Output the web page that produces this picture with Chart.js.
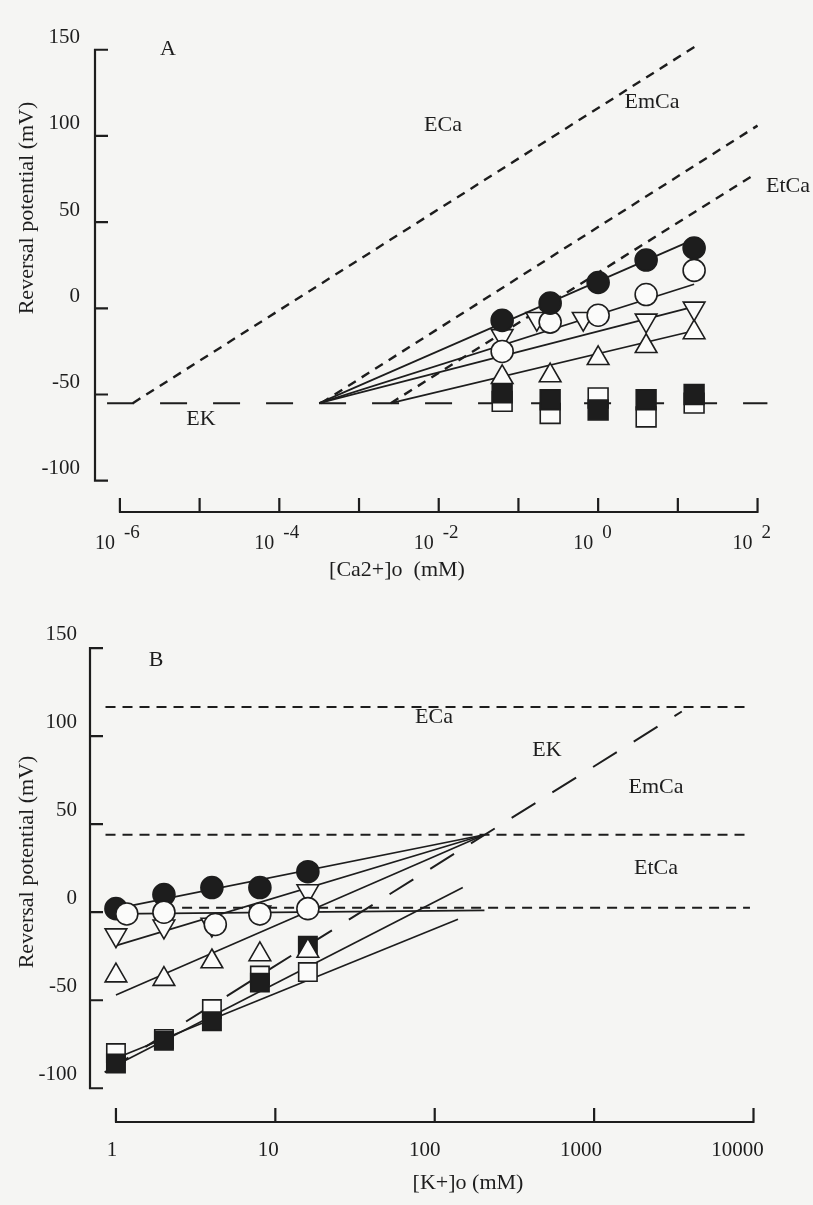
<!DOCTYPE html>
<html><head><meta charset="utf-8">
<script src="https://cdn.jsdelivr.net/npm/chart.js@4.4.1/dist/chart.umd.min.js"></script>
<style>
html,body{margin:0;padding:0;background:#f5f5f3;}
#wrap{position:relative;width:813px;height:1205px;overflow:hidden;background:#f5f5f3;}
#ca{position:absolute;left:0;top:0;}
#cb{position:absolute;left:0;top:600px;}
</style></head><body>
<div id="wrap">
<canvas id="ca" width="813" height="600"></canvas>
<canvas id="cb" width="813" height="605"></canvas>
</div>
<script>
const INK = '#1d1d1d';
const OPEN = '#fbfbfa';
const FONT = "'Liberation Serif', 'Times New Roman', serif";

// ---------- Panel A : [Ca2+]o ----------
const caConc = [0.0625, 0.25, 1, 4, 16];
const caDownTriangleConc = [0.0625, 0.17, 0.65, 4, 16];
const caFilledCircle = [-7, 3, 15, 28, 35];
const caOpenCircle   = [-25, -8, -4, 8, 22];
const caDownTriangle = [-16, -6, -6, -7, 0];
const caUpTriangle   = [-40, -39, -29, -22, -14];
const caFilledSquare = [-49, -53, -59, -53, -50];
const caOpenSquare   = [-54, -61, -52, -63, -55];
// fitted lines [conc, mV]
const caFitFilledCircle = [[3.16e-4, -55], [16, 40]];
const caFitOpenCircle   = [[3.16e-4, -55], [16, 14]];
const caFitDownTriangle = [[3.16e-4, -55], [16, 1]];
const caFitUpTriangle   = [[2.5e-3, -55], [16, -13]];
// theoretical potentials
const caEK   = [[6.9e-7, -55], [133, -55]];
const caECa  = [[1.45e-6, -55], [16.6, 152]];
const caEmCa = [[3.35e-4, -55], [100, 106]];
const caEtCa = [[2.5e-3, -55], [87, 77]];
const caYTicks = [-100, -50, 0, 50, 100, 150];
const caXTicks = [1e-6, 1e-5, 1e-4, 1e-3, 1e-2, 1e-1, 1, 10, 100];
const caXLabelPowers = [-6, -4, -2, 0, 2];

// ---------- Panel B : [K+]o ----------
const kConc = [1, 2, 4, 8, 16];
const kOpenCircleConc = [1.17, 2, 4.2, 8, 16];
const kFilledCircle = [2, 10, 14, 14, 23];
const kOpenCircle   = [-1, 0, -7, -1, 2];
const kDownTriangle = [-13, -8, -7, 0, 12];
const kUpTriangle   = [-36, -38, -28, -24, -22];
const kFilledSquare = [-86, -73, -62, -40, -19];
const kOpenSquare   = [-80, -72, -55, -36, -34];
const kFitFilledCircle = [[1, 2], [205, 44]];
const kFitDownTriangle = [[1, -19], [205, 44]];
const kFitUpTriangle   = [[1, -47], [205, 44]];
const kFitOpenCircle   = [[1, -1], [205, 1]];
const kFitFilledSquare = [[1, -87], [150, 14]];
const kFitOpenSquare   = [[1, -83], [140, -4]];
const kEK   = [[0.85, -91], [3550, 114]];
const kECa  = [[0.86, 116.5], [9500, 116.5]];
const kEmCa = [[0.86, 44], [9500, 44]];
const kEtCa = [[2.6, 2.5], [9500, 2.5]];
const kYTicks = [-100, -50, 0, 50, 100, 150];
const kXTicks = [1, 10, 100, 1000, 10000];
const kXLabels = ['1', '10', '100', '1000', '10000'];

function lineDs(pts, dash, width) {
  return { data: pts.map(([x, y]) => ({x, y})), showLine: true, pointRadius: 0,
    borderColor: INK, borderWidth: width, borderDash: dash, fill: false, clip: false, tension: 0 };
}
function markerDs(xs, ys, style, fill, rot, r) {
  return { data: xs.map((x, i) => ({x, y: ys[i]})), showLine: false, pointStyle: style,
    rotation: rot, pointRotation: rot, pointRadius: r, pointHoverRadius: r,
    pointBackgroundColor: fill, pointBorderColor: INK, pointBorderWidth: 1.6, clip: false };
}

function axesPlugin(spec) {
  return {
    id: 'axes' + spec.id,
    afterDraw(chart) {
      const ctx = chart.ctx, xs = chart.scales.x, ys = chart.scales.y;
      const left = chart.chartArea.left;
      ctx.save();
      ctx.strokeStyle = INK; ctx.lineWidth = 2.2; ctx.lineCap = 'butt';
      ctx.beginPath();
      const yTop = ys.getPixelForValue(spec.yTicks[spec.yTicks.length - 1]);
      const yBot = ys.getPixelForValue(spec.yTicks[0]);
      ctx.moveTo(left, yTop - 1); ctx.lineTo(left, yBot + 1);
      for (const v of spec.yTicks) { const p = ys.getPixelForValue(v); ctx.moveTo(left, p); ctx.lineTo(left + 13, p); }
      const xa = spec.xAxisY;
      const x0 = xs.getPixelForValue(spec.xTicks[0]);
      const x1 = xs.getPixelForValue(spec.xTicks[spec.xTicks.length - 1]);
      ctx.moveTo(x0 - 1, xa); ctx.lineTo(x1 + 1, xa);
      for (const v of spec.xTicks) { const p = xs.getPixelForValue(v); ctx.moveTo(p, xa); ctx.lineTo(p, xa - 14); }
      ctx.stroke();

      ctx.fillStyle = INK;
      spec.drawXLabels(ctx, xs);
      ctx.font = '22px ' + FONT; ctx.textAlign = 'center'; ctx.textBaseline = 'middle';
      ctx.fillText(spec.xTitle[0], spec.xTitle[1], spec.xTitle[2]);
      ctx.save();
      ctx.translate(spec.yTitle[1], spec.yTitle[2]); ctx.rotate(-Math.PI / 2);
      ctx.fillText(spec.yTitle[0], 0, 0);
      ctx.restore();
      for (const [t, x, y] of spec.notes) ctx.fillText(t, x, y);
      ctx.restore();
    }
  };
}

function yScale(min, max, ticks, width, offset, pad) {
  return {
    type: 'linear', min, max, position: 'left',
    grid: { display: false, drawTicks: false }, border: { display: false },
    afterBuildTicks: s => { s.ticks = ticks.map(v => ({value: v})); },
    afterFit: s => { s.width = width; },
    ticks: { color: INK, font: { family: FONT, size: 21 }, padding: pad, labelOffset: offset,
      callback: v => String(v) }
  };
}

new Chart(document.getElementById('ca'), {
  type: 'scatter',
  data: { datasets: [
    markerDs(caConc, caFilledCircle, 'circle', INK, 0, 11),
    markerDs(caConc, caOpenCircle, 'circle', OPEN, 0, 11),
    markerDs(caDownTriangleConc, caDownTriangle, 'triangle', OPEN, 180, 12.5),
    markerDs(caConc, caUpTriangle, 'triangle', OPEN, 0, 12.5),
    markerDs(caConc, caFilledSquare, 'rect', INK, 0, 14),
    markerDs(caConc, caOpenSquare, 'rect', OPEN, 0, 14),
    lineDs(caFitFilledCircle, [], 1.7),
    lineDs(caFitOpenCircle, [], 1.7),
    lineDs(caFitDownTriangle, [], 1.7),
    lineDs(caFitUpTriangle, [], 1.7),
    lineDs(caEK, [27, 26], 2),
    lineDs(caECa, [9, 7], 2.4),
    lineDs(caEmCa, [9, 7], 2.4),
    lineDs(caEtCa, [9, 7], 2.4)
  ]},
  options: {
    responsive: false, devicePixelRatio: 1, animation: false,
    layout: { padding: { left: 0, top: 10, right: 13, bottom: 100 } },
    plugins: { legend: { display: false }, tooltip: { enabled: false } },
    scales: {
      x: { type: 'logarithmic', min: Math.pow(10, -6.3125), max: Math.pow(10, 2.5), display: false },
      y: yScale(-111.19, 162.86, caYTicks, 95, -12, 15)
    }
  },
  plugins: [axesPlugin({
    id: 'A', yTicks: caYTicks, xTicks: caXTicks, xAxisY: 512,
    drawXLabels(ctx, xs) {
      for (const pw of caXLabelPowers) {
        const p = xs.getPixelForValue(Math.pow(10, pw));
        ctx.font = '20px ' + FONT; ctx.textAlign = 'right'; ctx.textBaseline = 'alphabetic';
        ctx.fillText('10', p - 5, 549);
        ctx.font = '19px ' + FONT; ctx.textAlign = 'left';
        ctx.fillText(String(pw), p + 4, 538);
      }
    },
    xTitle: ['[Ca2+]o  (mM)', 397, 570],
    yTitle: ['Reversal potential (mV)', 27, 208],
    notes: [['A', 168, 49], ['ECa', 443, 125], ['EmCa', 652, 102], ['EtCa', 788, 186], ['EK', 201, 419]]
  })]
});

new Chart(document.getElementById('cb'), {
  type: 'scatter',
  data: { datasets: [
    markerDs(kOpenCircleConc, kOpenCircle, 'circle', OPEN, 0, 11),
    markerDs(kConc, kFilledCircle, 'circle', INK, 0, 11),
    markerDs(kConc, kDownTriangle, 'triangle', OPEN, 180, 12.5),
    markerDs(kConc, kUpTriangle, 'triangle', OPEN, 0, 12.5),
    markerDs(kConc, kFilledSquare, 'rect', INK, 0, 13),
    markerDs(kConc, kOpenSquare, 'rect', OPEN, 0, 13),
    lineDs(kFitFilledCircle, [], 1.7),
    lineDs(kFitDownTriangle, [], 1.7),
    lineDs(kFitUpTriangle, [], 1.7),
    lineDs(kFitOpenCircle, [], 1.7),
    lineDs(kFitFilledSquare, [], 1.7),
    lineDs(kFitOpenSquare, [], 1.7),
    lineDs(kEK, [28, 20], 2),
    lineDs(kECa, [10, 7], 2),
    lineDs(kEmCa, [10, 7], 2),
    lineDs(kEtCa, [10, 7], 2)
  ]},
  options: {
    responsive: false, devicePixelRatio: 1, animation: false,
    layout: { padding: { left: 0, top: 15, right: 13, bottom: 105 } },
    plugins: { legend: { display: false }, tooltip: { enabled: false } },
    scales: {
      x: { type: 'logarithmic', min: Math.pow(10, -0.1628), max: Math.pow(10, 4.2817), display: false },
      y: yScale(-106.67, 162.78, kYTicks, 90, -14, 13)
    }
  },
  plugins: [axesPlugin({
    id: 'B', yTicks: kYTicks, xTicks: kXTicks, xAxisY: 522,
    drawXLabels(ctx, xs) {
      ctx.font = '21px ' + FONT; ctx.textAlign = 'center'; ctx.textBaseline = 'middle';
      kXTicks.forEach((v, i) => {
        const p = xs.getPixelForValue(v);
        ctx.fillText(kXLabels[i], p - 4 - i * 3, 550);
      });
    },
    xTitle: ['[K+]o (mM)', 468, 583],
    yTitle: ['Reversal potential (mV)', 27, 262],
    notes: [['B', 156, 60], ['ECa', 434, 117], ['EK', 547, 150], ['EmCa', 656, 187], ['EtCa', 656, 268]]
  })]
});
</script>
</body></html>
